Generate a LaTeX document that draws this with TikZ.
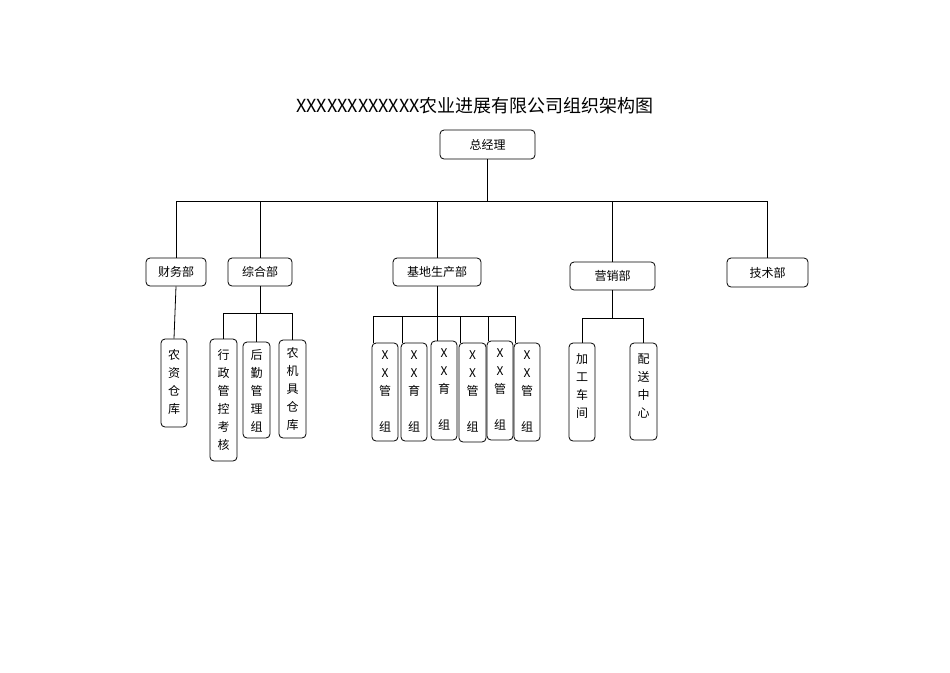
\documentclass[tikz,border=0pt]{standalone}
\usepackage{fontspec}
\newfontfamily\cjk{Noto Sans CJK SC}
\begin{document}
\begin{tikzpicture}[x=0.75pt,y=-0.75pt,
  bx/.style={draw,rounded corners=3pt,line width=0.6pt,inner sep=0pt,font=\cjk\fontsize{9}{12}\selectfont},
  vt/.style={anchor=north,align=center,inner sep=0pt,font=\cjk\fontsize{9}{13.5}\selectfont},
  ln/.style={line width=0.6pt}]
\useasboundingbox (0,0) rectangle (950,672);
\newcommand\hb[5]{\node[bx,minimum width={(#3-#2)*0.75pt},minimum height={(#5-#4)*0.75pt}] (#1) at ({(#2+#3)/2},{(#4+#5)/2}) {};}
\node[font=\cjk\fontsize{13.5}{16}\selectfont] (title) at (475,106) {XXXXXXXXXXXX农业进展有限公司组织架构图};
\node[bx,minimum width=71.25pt,minimum height=21.75pt] (gm) at (487.5,144.5) {总经理};
\node[bx,minimum width=45pt,minimum height=21pt] (cw) at (176,272) {财务部};
\node[bx,minimum width=48pt,minimum height=21pt] (zh) at (260,272) {综合部};
\node[bx,minimum width=66pt,minimum height=21pt] (jd) at (437,272) {基地生产部};
\node[bx,minimum width=63.75pt,minimum height=21pt] (yx) at (612.5,276) {营销部};
\node[bx,minimum width=60.75pt,minimum height=21.75pt] (js) at (767.5,272.5) {技术部};
\hb{a1}{161}{187}{339}{427}
\hb{b1}{210}{237}{339}{461}
\hb{b2}{243}{270}{342}{438}
\hb{b3}{279}{306}{340}{438}
\hb{c1}{372}{398}{343}{441}
\hb{c2}{401}{427}{343}{441}
\hb{c3}{431}{457}{341}{440}
\hb{c4}{459}{486}{343}{442}
\hb{c5}{487}{513}{341}{440}
\hb{c6}{514}{540}{343}{441}
\hb{d1}{569}{595}{343}{441}
\hb{d2}{630}{657}{343}{440}
\node[vt] at ([yshift=-8pt]a1.north) {农\\资\\仓\\库};
\node[vt] at ([yshift=-8pt]b1.north) {行\\政\\管\\控\\考\\核};
\node[vt] at ([yshift=-6pt]b2.north) {后\\勤\\管\\理\\组};
\node[vt] at ([yshift=-6pt]b3.north) {农\\机\\具\\仓\\库};
\foreach \n/\t in {c1/管,c2/育,c3/育,c4/管,c5/管,c6/管}{
  \node[vt] at ([yshift=-6pt]\n.north) {X\\X\\\t\\\ifx\t育苗\else 理\fi\\组};}
\node[vt] at ([yshift=-8pt]d1.north) {加\\工\\车\\间};
\node[vt] at ([yshift=-8pt]d2.north) {配\\送\\中\\心};
% connectors
\coordinate (bus) at (0,201);
\draw[ln] (gm.south) -- (gm.south |- bus);
\draw[ln] (cw.north |- bus) -- (js.north |- bus);
\foreach \n in {cw,zh,jd,yx,js} \draw[ln] (\n.north |- bus) -- (\n.north);
\draw[ln] (cw.south) -- (a1.north);
\coordinate (zb) at (0,313);
\draw[ln] (zh.south) -- (zh.south |- zb);
\draw[ln] (b1.north |- zb) -- (b3.north |- zb);
\foreach \n in {b1,b2,b3} \draw[ln] (\n.north |- zb) -- (\n.north);
\coordinate (jb) at (0,316);
\draw[ln] (jd.south) -- (jd.south |- jb);
\draw[ln] ([xshift=-9pt]c1.north |- jb) -- ([xshift=-9pt]c6.north |- jb);
\foreach \n in {c1,c2,c4,c5,c6} \draw[ln] ([xshift=-9pt]\n.north |- jb) -- ([xshift=-9pt]\n.north);
\draw[ln] (jd.south |- jb) -- (jd.south |- c3.north);
\coordinate (yb) at (0,318);
\draw[ln] (yx.south) -- (yx.south |- yb);
\draw[ln] (d1.north |- yb) -- (d2.north |- yb);
\foreach \n in {d1,d2} \draw[ln] (\n.north |- yb) -- (\n.north);
\end{tikzpicture}
\end{document}
